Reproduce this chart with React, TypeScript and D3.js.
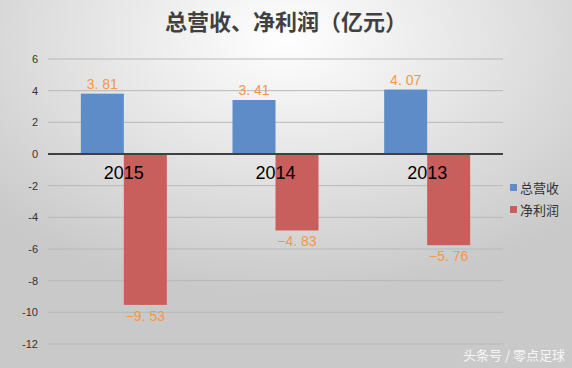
import React, { useRef, useEffect } from 'react';
import * as d3 from 'd3';

const years = ['2015', '2014', '2013'];
const seriesNames = ['总营收', '净利润'];
const revenue = [3.81, 3.41, 4.07];
const profit = [-9.53, -4.83, -5.76];
const yTicks = [6, 4, 2, 0, -2, -4, -6, -8, -10, -12];
const colors = ['#5d8cc8', '#c85f5c'];

export default function App() {
  const svgRef = useRef<SVGSVGElement>(null);

  const width = 572;
  const height = 368;
  const margin = { top: 59, right: 69, bottom: 24, left: 48 };

  useEffect(() => {
    const svg = d3.select(svgRef.current);
    svg.selectAll('*').remove();

    const defs = svg.append('defs');
    const grad = defs.append('radialGradient')
      .attr('id', 'bg')
      .attr('cx', '50%').attr('cy', '10%').attr('r', '70%');
    grad.append('stop').attr('offset', '0%').attr('stop-color', '#ffffff');
    grad.append('stop').attr('offset', '100%').attr('stop-color', '#c9c9c9');

    svg.append('rect').attr('width', width).attr('height', height).attr('fill', 'url(#bg)');

    const x = d3.scaleBand().domain(years)
      .range([margin.left, width - margin.right])
      .paddingInner(0.433).paddingOuter(0.2165);
    const xs = d3.scaleBand().domain(seriesNames).range([0, x.bandwidth()]);
    const y = d3.scaleLinear().domain([-12, 6]).range([height - margin.bottom, margin.top]);

    // grid
    svg.append('g').selectAll('line').data(yTicks.filter(t => t !== 0)).join('line')
      .attr('x1', margin.left).attr('x2', width - margin.right)
      .attr('y1', d => y(d)).attr('y2', d => y(d))
      .attr('stroke', '#b8b8b8').attr('stroke-width', 1);

    svg.append('g').selectAll('text').data(yTicks).join('text')
      .attr('x', 38).attr('y', d => y(d)).attr('dy', '0.35em')
      .attr('text-anchor', 'end')
      .attr('font-family', 'Liberation Sans, Arial, sans-serif')
      .attr('font-size', 11).attr('fill', '#333')
      .text(d => d);

    const data = years.map((yr, i) => ({ yr, vals: [revenue[i], profit[i]] }));

    const groups = svg.append('g').selectAll('g').data(data).join('g')
      .attr('transform', d => `translate(${x(d.yr)},0)`);

    groups.selectAll('rect').data(d => d.vals.map((v, j) => ({ v, s: seriesNames[j], j }))).join('rect')
      .attr('x', d => xs(d.s)!)
      .attr('width', xs.bandwidth())
      .attr('y', d => Math.min(y(d.v), y(0)))
      .attr('height', d => Math.abs(y(d.v) - y(0)))
      .attr('fill', d => colors[d.j]);

    // zero line
    svg.append('line')
      .attr('x1', margin.left).attr('x2', width - margin.right)
      .attr('y1', y(0)).attr('y2', y(0))
      .attr('stroke', '#404040').attr('stroke-width', 2);

    // value labels
    groups.selectAll('text.val').data(d => d.vals.map((v, j) => ({ v, s: seriesNames[j], j }))).join('text')
      .attr('class', 'val')
      .attr('x', d => xs(d.s)! + xs.bandwidth() / 2)
      .attr('y', d => d.v >= 0 ? y(d.v) - 5 : y(d.v) + 16)
      .attr('text-anchor', 'middle')
      .attr('font-family', 'Liberation Sans, Arial, sans-serif')
      .attr('font-size', 14)
      .attr('fill', '#f79646')
      .text(d => d.v.toFixed(2).replace('.', '. ').replace('-', '−'));

    // category labels
    svg.append('g').selectAll('text').data(years).join('text')
      .attr('x', d => x(d)! + x.bandwidth() / 2)
      .attr('y', y(0) + 25)
      .attr('text-anchor', 'middle')
      .attr('font-family', 'Liberation Sans, Arial, sans-serif')
      .attr('font-size', 18).attr('fill', '#000')
      .text(d => d);

    // title
    svg.append('text')
      .attr('x', 286).attr('y', 30)
      .attr('text-anchor', 'middle')
      .attr('font-family', 'Noto Sans CJK SC, sans-serif')
      .attr('font-weight', 'bold')
      .attr('font-size', 22).attr('fill', '#404040')
      .text('总营收、净利润（亿元）');

    // legend
    const lg = svg.append('g').selectAll('g').data(seriesNames).join('g')
      .attr('transform', (d, i) => `translate(510,${188 + i * 22})`);
    lg.append('rect').attr('x', 0).attr('y', -4).attr('width', 7).attr('height', 7)
      .attr('fill', (d, i) => colors[i]);
    lg.append('text').attr('x', 10).attr('dy', '0.35em')
      .attr('font-family', 'Noto Sans CJK SC, sans-serif')
      .attr('font-size', 13).attr('fill', '#333')
      .text(d => d);

    // watermark
    svg.append('text')
      .attr('x', 565).attr('y', 360)
      .attr('text-anchor', 'end')
      .attr('font-family', 'Noto Sans CJK SC, sans-serif')
      .attr('font-size', 13).attr('fill', '#ffffff').attr('opacity', 0.85)
      .text('头条号 / 零点足球');
  }, []);

  return (
    <svg ref={svgRef} width={width} height={height}
      style={{ position: 'absolute', left: 0, top: 0, display: 'block' }}></svg>
  );
}
